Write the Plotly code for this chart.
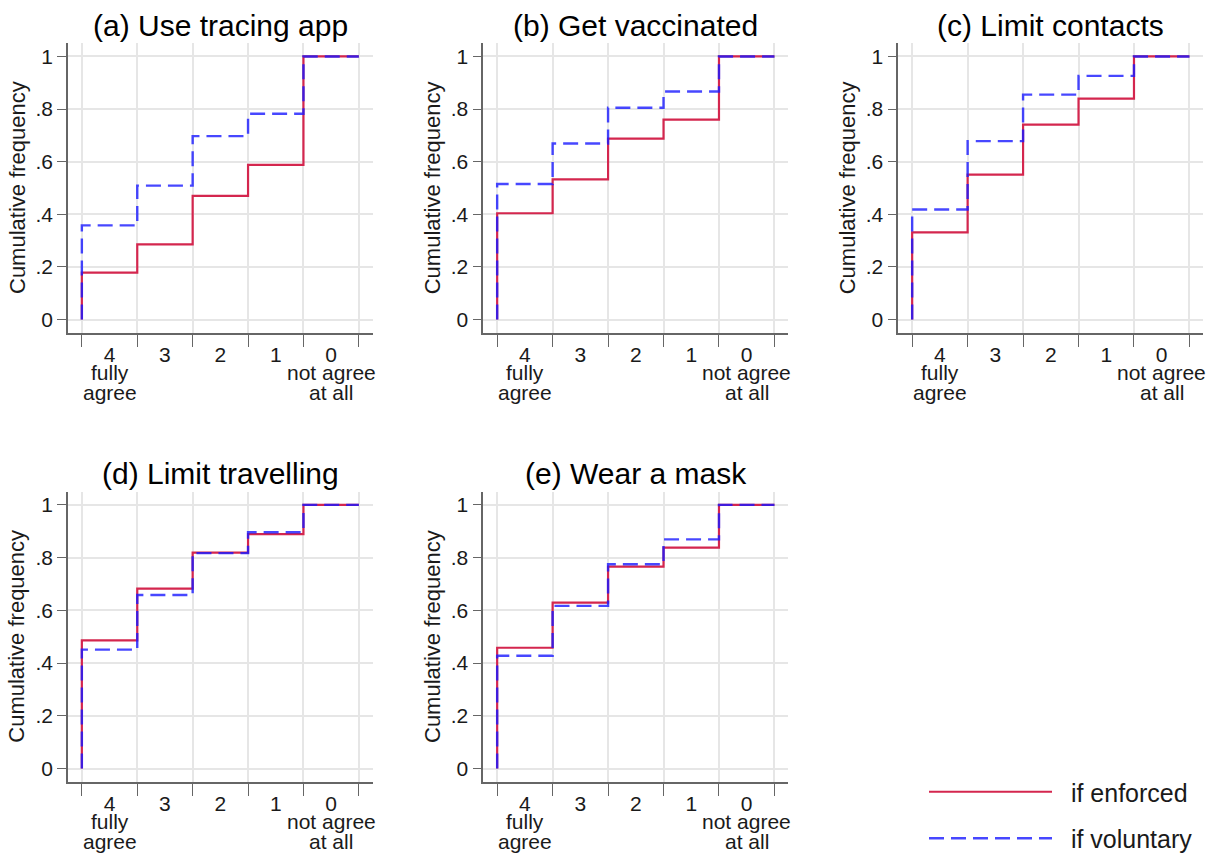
import plotly.graph_objects as go

# ---------------- data ----------------
panel_titles = ["(a) Use tracing app", "(b) Get vaccinated", "(c) Limit contacts",
                "(d) Limit travelling", "(e) Wear a mask"]
categories = ["4", "3", "2", "1", "0"]          # agreement level, left to right
cat_sub_left = ["fully", "agree"]               # under "4"
cat_sub_right = ["not agree", "at all"]          # under "0"
y_ticks = [0, 0.2, 0.4, 0.6, 0.8, 1.0]
y_tick_labels = ["0", ".2", ".4", ".6", ".8", "1"]

# cumulative frequency at the end of each category (4,3,2,1,0)
enforced_a = [0.178, 0.286, 0.470, 0.588, 1.0]
voluntary_a = [0.358, 0.509, 0.697, 0.782, 1.0]
enforced_b = [0.404, 0.533, 0.688, 0.760, 1.0]
voluntary_b = [0.515, 0.669, 0.805, 0.867, 1.0]
enforced_c = [0.331, 0.551, 0.741, 0.840, 1.0]
voluntary_c = [0.418, 0.678, 0.855, 0.926, 1.0]
enforced_d = [0.486, 0.682, 0.819, 0.889, 1.0]
voluntary_d = [0.451, 0.658, 0.817, 0.896, 1.0]
enforced_e = [0.458, 0.629, 0.766, 0.838, 1.0]
voluntary_e = [0.428, 0.617, 0.775, 0.869, 1.0]

enforced = [enforced_a, enforced_b, enforced_c, enforced_d, enforced_e]
voluntary = [voluntary_a, voluntary_b, voluntary_c, voluntary_d, voluntary_e]

# ---------------- style ----------------
W, H = 1211, 855
FONT = "Liberation Sans, Arial, sans-serif"
RED = "rgb(212,38,78)"
BLUE = "rgba(25,25,255,0.8)"
GRID = "#e6e6e6"
AXIS = "#666666"
TXT = "#1a1a1a"

# plot-area edges in pixels
col_px = [(68, 372.7), (483.3, 788.3), (898.3, 1203.3)]
row_px = [(43.3, 332.7), (491.7, 781.7)]
cells = [(0, 0), (0, 1), (0, 2), (1, 0), (1, 1)]


def step_xy(vals):
    n = len(vals)
    xs = [0] + list(range(0, n + 1))
    ys = [0] + list(vals) + [vals[-1]]
    return xs, ys


fig = go.Figure()
layout = dict(width=W, height=H, margin=dict(l=0, r=0, t=0, b=0, autoexpand=False),
              plot_bgcolor="white", paper_bgcolor="white",
              font=dict(family=FONT, size=21, color=TXT), annotations=[])

n_cat = len(categories)
for i, (r, c) in enumerate(cells):
    k = i + 1
    xa = "x" if k == 1 else f"x{k}"
    ya = "y" if k == 1 else f"y{k}"
    xs, ys = step_xy(enforced[i])
    fig.add_trace(go.Scatter(x=xs, y=ys, mode="lines", line=dict(color=RED, width=2.2, shape="hv"),
                             name="if enforced", legendgroup="enf", showlegend=(i == 0),
                             xaxis=xa, yaxis=ya))
    xs, ys = step_xy(voluntary[i])
    fig.add_trace(go.Scatter(x=xs, y=ys, mode="lines",
                             line=dict(color=BLUE, width=2.4, shape="hv", dash="15px,7px"),
                             name="if voluntary", legendgroup="vol", showlegend=(i == 0),
                             xaxis=xa, yaxis=ya))

    x0, x1 = col_px[c]
    ytop, ybot = row_px[r]
    xdom = [x0 / W, x1 / W]
    ydom = [1 - ybot / H, 1 - ytop / H]
    xkey = "xaxis" if k == 1 else f"xaxis{k}"
    ykey = "yaxis" if k == 1 else f"yaxis{k}"
    layout[xkey] = dict(domain=xdom, anchor=ya, range=[-0.25, n_cat + 0.25],
                        tickmode="array", tickvals=[j + 0.5 for j in range(n_cat)],
                        ticktext=categories, ticks="outside", ticklen=2,
                        tickcolor="rgba(0,0,0,0)", showgrid=False, zeroline=False,
                        showline=True, linecolor=AXIS, linewidth=1.6,
                        tickfont=dict(size=21, color=TXT),
                        minor=dict(tickmode="array", tickvals=list(range(n_cat + 1)),
                                   ticks="outside", ticklen=12, tickcolor=AXIS, tickwidth=1.4,
                                   showgrid=True, gridcolor=GRID, gridwidth=1.5),
                        fixedrange=True)
    layout[ykey] = dict(domain=ydom, anchor=xa, range=[-0.05, 1.05],
                        tickmode="array", tickvals=y_ticks, ticktext=y_tick_labels,
                        ticks="outside", ticklen=9, tickcolor=AXIS, tickwidth=1.4,
                        showgrid=True, gridcolor=GRID, gridwidth=1.5, zeroline=False,
                        showline=True, linecolor=AXIS, linewidth=1.6,
                        tickfont=dict(size=21, color=TXT), fixedrange=True)

    # panel title
    layout["annotations"].append(dict(text=panel_titles[i], xref=f"{xa} domain", yref=f"{ya} domain",
                                      x=0.5, y=1, yanchor="middle", yshift=18, showarrow=False,
                                      font=dict(size=30, color="black")))
    # y axis title
    layout["annotations"].append(dict(text="Cumulative frequency", xref=f"{xa} domain",
                                      yref=f"{ya} domain", x=0, y=0.5, xshift=-51,
                                      xanchor="center", yanchor="middle", textangle=-90,
                                      showarrow=False, font=dict(size=22, color=TXT)))
    # sub labels under first and last category
    for j, txt in enumerate(cat_sub_left):
        layout["annotations"].append(dict(text=txt, xref=xa, yref=f"{ya} domain", x=0.5, y=0,
                                          yanchor="middle", yshift=-40 - 20 * j,
                                          showarrow=False, font=dict(size=21, color=TXT)))
    for j, txt in enumerate(cat_sub_right):
        layout["annotations"].append(dict(text=txt, xref=xa, yref=f"{ya} domain", x=n_cat - 0.5, y=0,
                                          yanchor="middle", yshift=-40 - 20 * j,
                                          showarrow=False, font=dict(size=21, color=TXT)))

layout["showlegend"] = True
layout["legend"] = dict(x=924 / W, y=1 - 769 / H, xanchor="left", yanchor="top",
                        bgcolor="rgba(0,0,0,0)", font=dict(size=25, color=TXT),
                        itemwidth=123, tracegroupgap=11, traceorder="grouped")
fig.update_layout(**layout)
for tr in fig.data:
    tr.name = "\u00a0\u00a0" + tr.name
fig.write_html("out.html", config={"displayModeBar": False},
               post_script="document.body.style.margin='0';document.body.style.overflow='hidden';")
